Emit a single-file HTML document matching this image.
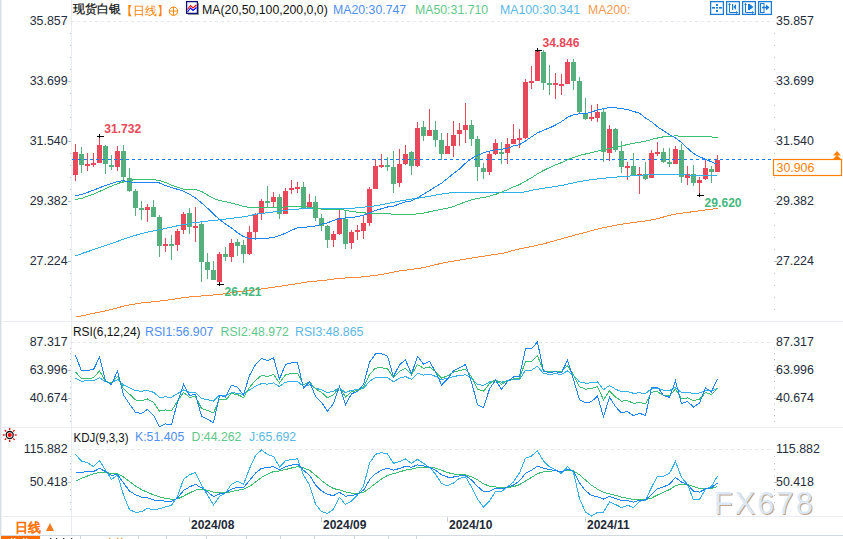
<!DOCTYPE html>
<html><head><meta charset="utf-8"><style>
html,body{margin:0;padding:0;background:#fff;}
#wrap{position:relative;width:843px;height:539px;overflow:hidden;}
svg{display:block}
text{font-family:"Liberation Sans",sans-serif;}
.ax{font-size:12.4px;fill:#252d3c;}
.tt{font-size:12.3px;}
.hl{font-size:12.1px;font-weight:bold;}
.dt{font-size:12px;font-weight:bold;fill:#222a36;}
.wm{font-size:30.5px;letter-spacing:2.2px;}
.bt{font-size:13px;}
</style></head><body><div id="wrap">
<svg width="843" height="539" viewBox="0 0 843 539">
<rect x="0" y="0" width="843" height="539" fill="#fff"/>
<rect x="0" y="0" width="1" height="536" fill="#d9dde6"/><rect x="1" y="0" width="1" height="536" fill="#eef0f4"/>
<rect x="71" y="0" width="1" height="516" fill="#e9edf2"/>
<rect x="1" y="321" width="842" height="1" fill="#e9edf2"/>
<rect x="1" y="427" width="842" height="1" fill="#e9edf2"/>
<rect x="1" y="516" width="842" height="1" fill="#e9edf2"/>
<rect x="71" y="516" width="1" height="20" fill="#e9edf2"/>
<rect x="1" y="535" width="842" height="1" fill="#d3d9e0"/>
<rect x="1" y="536" width="842" height="3" fill="#fff"/>
<rect x="1" y="536" width="39" height="3" fill="#ff6a00"/>
<rect x="80" y="536" width="1" height="3" fill="#cfd5dd"/>
<rect x="138" y="536" width="1" height="3" fill="#cfd5dd"/>
<rect x="166" y="536" width="1" height="3" fill="#cfd5dd"/>
<rect x="206" y="536" width="1" height="3" fill="#cfd5dd"/>
<rect x="246" y="536" width="1" height="3" fill="#cfd5dd"/>
<rect x="280" y="536" width="1" height="3" fill="#cfd5dd"/>
<rect x="314" y="536" width="1" height="3" fill="#cfd5dd"/>
<rect x="354" y="536" width="1" height="3" fill="#cfd5dd"/>
<rect x="388" y="536" width="1" height="3" fill="#cfd5dd"/>
<rect x="416" y="536" width="1" height="3" fill="#cfd5dd"/>
<rect x="11" y="538" width="1.3" height="1" fill="#fff"/>
<rect x="14" y="538" width="1.3" height="1" fill="#fff"/>
<rect x="23" y="538" width="1.3" height="1" fill="#fff"/>
<rect x="26" y="538" width="1.3" height="1" fill="#fff"/>
<rect x="50" y="538" width="1.3" height="1" fill="#333"/>
<rect x="56" y="538" width="1.3" height="1" fill="#333"/>
<rect x="63" y="538" width="1.3" height="1" fill="#333"/>
<rect x="71" y="538" width="1.3" height="1" fill="#333"/>
<rect x="109" y="538" width="1.3" height="1" fill="#ff7f00"/>
<rect x="117" y="538" width="1.3" height="1" fill="#ff7f00"/>
<rect x="121" y="538" width="1.3" height="1" fill="#ff7f00"/>
<rect x="70" y="33" width="1" height="1" fill="#b8c2cf"/>
<rect x="774" y="33" width="1" height="1" fill="#b8c2cf"/>
<rect x="70" y="45" width="1" height="1" fill="#b8c2cf"/>
<rect x="774" y="45" width="1" height="1" fill="#b8c2cf"/>
<rect x="70" y="57" width="1" height="1" fill="#b8c2cf"/>
<rect x="774" y="57" width="1" height="1" fill="#b8c2cf"/>
<rect x="70" y="69" width="1" height="1" fill="#b8c2cf"/>
<rect x="774" y="69" width="1" height="1" fill="#b8c2cf"/>
<rect x="70" y="81" width="1" height="1" fill="#b8c2cf"/>
<rect x="774" y="81" width="1" height="1" fill="#b8c2cf"/>
<rect x="70" y="93" width="1" height="1" fill="#b8c2cf"/>
<rect x="774" y="93" width="1" height="1" fill="#b8c2cf"/>
<rect x="70" y="105" width="1" height="1" fill="#b8c2cf"/>
<rect x="774" y="105" width="1" height="1" fill="#b8c2cf"/>
<rect x="70" y="117" width="1" height="1" fill="#b8c2cf"/>
<rect x="774" y="117" width="1" height="1" fill="#b8c2cf"/>
<rect x="70" y="129" width="1" height="1" fill="#b8c2cf"/>
<rect x="774" y="129" width="1" height="1" fill="#b8c2cf"/>
<rect x="70" y="141" width="1" height="1" fill="#b8c2cf"/>
<rect x="774" y="141" width="1" height="1" fill="#b8c2cf"/>
<rect x="70" y="153" width="1" height="1" fill="#b8c2cf"/>
<rect x="774" y="153" width="1" height="1" fill="#b8c2cf"/>
<rect x="70" y="165" width="1" height="1" fill="#b8c2cf"/>
<rect x="774" y="165" width="1" height="1" fill="#b8c2cf"/>
<rect x="70" y="177" width="1" height="1" fill="#b8c2cf"/>
<rect x="774" y="177" width="1" height="1" fill="#b8c2cf"/>
<rect x="70" y="189" width="1" height="1" fill="#b8c2cf"/>
<rect x="774" y="189" width="1" height="1" fill="#b8c2cf"/>
<rect x="70" y="201" width="1" height="1" fill="#b8c2cf"/>
<rect x="774" y="201" width="1" height="1" fill="#b8c2cf"/>
<rect x="70" y="213" width="1" height="1" fill="#b8c2cf"/>
<rect x="774" y="213" width="1" height="1" fill="#b8c2cf"/>
<rect x="70" y="225" width="1" height="1" fill="#b8c2cf"/>
<rect x="774" y="225" width="1" height="1" fill="#b8c2cf"/>
<rect x="70" y="237" width="1" height="1" fill="#b8c2cf"/>
<rect x="774" y="237" width="1" height="1" fill="#b8c2cf"/>
<rect x="70" y="249" width="1" height="1" fill="#b8c2cf"/>
<rect x="774" y="249" width="1" height="1" fill="#b8c2cf"/>
<rect x="70" y="261" width="1" height="1" fill="#b8c2cf"/>
<rect x="774" y="261" width="1" height="1" fill="#b8c2cf"/>
<rect x="70" y="273" width="1" height="1" fill="#b8c2cf"/>
<rect x="774" y="273" width="1" height="1" fill="#b8c2cf"/>
<rect x="70" y="285" width="1" height="1" fill="#b8c2cf"/>
<rect x="774" y="285" width="1" height="1" fill="#b8c2cf"/>
<rect x="70" y="297" width="1" height="1" fill="#b8c2cf"/>
<rect x="774" y="297" width="1" height="1" fill="#b8c2cf"/>
<rect x="70" y="309" width="1" height="1" fill="#b8c2cf"/>
<rect x="774" y="309" width="1" height="1" fill="#b8c2cf"/>
<text x="67.6" y="25.3" text-anchor="end" class="ax">35.857</text>
<text x="776" y="25.3" class="ax">35.857</text>
<rect x="68" y="81" width="3" height="1" fill="#b8c2cf"/>
<rect x="774" y="81" width="3" height="1" fill="#b8c2cf"/>
<text x="67.6" y="85.3" text-anchor="end" class="ax">33.699</text>
<text x="776" y="85.3" class="ax">33.699</text>
<rect x="68" y="141" width="3" height="1" fill="#b8c2cf"/>
<rect x="774" y="141" width="3" height="1" fill="#b8c2cf"/>
<text x="67.6" y="145.3" text-anchor="end" class="ax">31.540</text>
<text x="776" y="145.3" class="ax">31.540</text>
<rect x="68" y="201" width="3" height="1" fill="#b8c2cf"/>
<rect x="774" y="201" width="3" height="1" fill="#b8c2cf"/>
<text x="67.6" y="205.3" text-anchor="end" class="ax">29.382</text>
<text x="776" y="205.3" class="ax">29.382</text>
<rect x="68" y="261" width="3" height="1" fill="#b8c2cf"/>
<rect x="774" y="261" width="3" height="1" fill="#b8c2cf"/>
<text x="67.6" y="265.3" text-anchor="end" class="ax">27.224</text>
<text x="776" y="265.3" class="ax">27.224</text>
<rect x="70" y="348" width="1" height="1" fill="#b8c2cf"/>
<rect x="774" y="348" width="1" height="1" fill="#b8c2cf"/>
<rect x="70" y="353" width="1" height="1" fill="#b8c2cf"/>
<rect x="774" y="353" width="1" height="1" fill="#b8c2cf"/>
<rect x="70" y="359" width="1" height="1" fill="#b8c2cf"/>
<rect x="774" y="359" width="1" height="1" fill="#b8c2cf"/>
<rect x="70" y="365" width="1" height="1" fill="#b8c2cf"/>
<rect x="774" y="365" width="1" height="1" fill="#b8c2cf"/>
<rect x="70" y="370" width="1" height="1" fill="#b8c2cf"/>
<rect x="774" y="370" width="1" height="1" fill="#b8c2cf"/>
<rect x="70" y="376" width="1" height="1" fill="#b8c2cf"/>
<rect x="774" y="376" width="1" height="1" fill="#b8c2cf"/>
<rect x="70" y="381" width="1" height="1" fill="#b8c2cf"/>
<rect x="774" y="381" width="1" height="1" fill="#b8c2cf"/>
<rect x="70" y="387" width="1" height="1" fill="#b8c2cf"/>
<rect x="774" y="387" width="1" height="1" fill="#b8c2cf"/>
<rect x="70" y="393" width="1" height="1" fill="#b8c2cf"/>
<rect x="774" y="393" width="1" height="1" fill="#b8c2cf"/>
<rect x="70" y="398" width="1" height="1" fill="#b8c2cf"/>
<rect x="774" y="398" width="1" height="1" fill="#b8c2cf"/>
<rect x="70" y="404" width="1" height="1" fill="#b8c2cf"/>
<rect x="774" y="404" width="1" height="1" fill="#b8c2cf"/>
<rect x="70" y="409" width="1" height="1" fill="#b8c2cf"/>
<rect x="774" y="409" width="1" height="1" fill="#b8c2cf"/>
<rect x="70" y="415" width="1" height="1" fill="#b8c2cf"/>
<rect x="774" y="415" width="1" height="1" fill="#b8c2cf"/>
<rect x="70" y="421" width="1" height="1" fill="#b8c2cf"/>
<rect x="774" y="421" width="1" height="1" fill="#b8c2cf"/>
<text x="67.6" y="346.2" text-anchor="end" class="ax">87.317</text>
<text x="776" y="346.2" class="ax">87.317</text>
<rect x="68" y="370" width="3" height="1" fill="#b8c2cf"/>
<rect x="774" y="370" width="3" height="1" fill="#b8c2cf"/>
<text x="67.6" y="374.2" text-anchor="end" class="ax">63.996</text>
<text x="776" y="374.2" class="ax">63.996</text>
<rect x="68" y="398" width="3" height="1" fill="#b8c2cf"/>
<rect x="774" y="398" width="3" height="1" fill="#b8c2cf"/>
<text x="67.6" y="402.1" text-anchor="end" class="ax">40.674</text>
<text x="776" y="402.1" class="ax">40.674</text>
<rect x="70" y="456" width="1" height="1" fill="#b8c2cf"/>
<rect x="774" y="456" width="1" height="1" fill="#b8c2cf"/>
<rect x="70" y="463" width="1" height="1" fill="#b8c2cf"/>
<rect x="774" y="463" width="1" height="1" fill="#b8c2cf"/>
<rect x="70" y="469" width="1" height="1" fill="#b8c2cf"/>
<rect x="774" y="469" width="1" height="1" fill="#b8c2cf"/>
<rect x="70" y="476" width="1" height="1" fill="#b8c2cf"/>
<rect x="774" y="476" width="1" height="1" fill="#b8c2cf"/>
<rect x="70" y="482" width="1" height="1" fill="#b8c2cf"/>
<rect x="774" y="482" width="1" height="1" fill="#b8c2cf"/>
<rect x="70" y="489" width="1" height="1" fill="#b8c2cf"/>
<rect x="774" y="489" width="1" height="1" fill="#b8c2cf"/>
<rect x="70" y="495" width="1" height="1" fill="#b8c2cf"/>
<rect x="774" y="495" width="1" height="1" fill="#b8c2cf"/>
<rect x="70" y="502" width="1" height="1" fill="#b8c2cf"/>
<rect x="774" y="502" width="1" height="1" fill="#b8c2cf"/>
<rect x="70" y="509" width="1" height="1" fill="#b8c2cf"/>
<rect x="774" y="509" width="1" height="1" fill="#b8c2cf"/>
<text x="67.6" y="453.4" text-anchor="end" class="ax">115.882</text>
<text x="776" y="453.4" class="ax">115.882</text>
<rect x="68" y="482" width="3" height="1" fill="#b8c2cf"/>
<rect x="774" y="482" width="3" height="1" fill="#b8c2cf"/>
<text x="67.6" y="486.3" text-anchor="end" class="ax">50.418</text>
<text x="776" y="486.3" class="ax">50.418</text>
<line x1="71" y1="21.5" x2="774" y2="21.5" stroke="#e3e8ee" stroke-width="1" stroke-dasharray="3,3" shape-rendering="crispEdges"/>
<line x1="71" y1="342.5" x2="774" y2="342.5" stroke="#e3e8ee" stroke-width="1" stroke-dasharray="3,3" shape-rendering="crispEdges"/>
<line x1="71" y1="449.5" x2="774" y2="449.5" stroke="#e3e8ee" stroke-width="1" stroke-dasharray="3,3" shape-rendering="crispEdges"/>
<rect x="75" y="144" width="1" height="37" fill="#e9485a"/>
<rect x="73" y="152" width="5" height="23" fill="#e9485a"/>
<rect x="81" y="147" width="1" height="26" fill="#55b07d"/>
<rect x="79" y="154" width="5" height="11" fill="#55b07d"/>
<rect x="87" y="153" width="1" height="18" fill="#e9485a"/>
<rect x="85" y="164" width="5" height="2" fill="#e9485a"/>
<rect x="93" y="153" width="1" height="14" fill="#e9485a"/>
<rect x="91" y="163" width="5" height="2" fill="#e9485a"/>
<rect x="99" y="136" width="1" height="27" fill="#e9485a"/>
<rect x="97" y="145" width="5" height="18" fill="#e9485a"/>
<rect x="105" y="145" width="1" height="29" fill="#55b07d"/>
<rect x="103" y="146" width="5" height="18" fill="#55b07d"/>
<rect x="111" y="155" width="1" height="15" fill="#55b07d"/>
<rect x="109" y="165" width="5" height="2" fill="#55b07d"/>
<rect x="117" y="146" width="1" height="25" fill="#e9485a"/>
<rect x="115" y="151" width="5" height="16" fill="#e9485a"/>
<rect x="123" y="145" width="1" height="38" fill="#55b07d"/>
<rect x="121" y="151" width="5" height="26" fill="#55b07d"/>
<rect x="129" y="168" width="1" height="24" fill="#55b07d"/>
<rect x="127" y="178" width="5" height="13" fill="#55b07d"/>
<rect x="135" y="189" width="1" height="27" fill="#55b07d"/>
<rect x="133" y="191" width="5" height="17" fill="#55b07d"/>
<rect x="141" y="201" width="1" height="19" fill="#55b07d"/>
<rect x="139" y="208" width="5" height="2" fill="#55b07d"/>
<rect x="147" y="204" width="1" height="18" fill="#e9485a"/>
<rect x="145" y="207" width="5" height="3" fill="#e9485a"/>
<rect x="153" y="200" width="1" height="17" fill="#55b07d"/>
<rect x="151" y="207" width="5" height="10" fill="#55b07d"/>
<rect x="159" y="215" width="1" height="42" fill="#55b07d"/>
<rect x="157" y="217" width="5" height="29" fill="#55b07d"/>
<rect x="165" y="238" width="1" height="14" fill="#e9485a"/>
<rect x="163" y="244" width="5" height="2" fill="#e9485a"/>
<rect x="171" y="235" width="1" height="25" fill="#55b07d"/>
<rect x="169" y="244" width="5" height="2" fill="#55b07d"/>
<rect x="177" y="229" width="1" height="22" fill="#e9485a"/>
<rect x="175" y="231" width="5" height="14" fill="#e9485a"/>
<rect x="183" y="212" width="1" height="22" fill="#e9485a"/>
<rect x="181" y="214" width="5" height="16" fill="#e9485a"/>
<rect x="189" y="208" width="1" height="26" fill="#55b07d"/>
<rect x="187" y="213" width="5" height="14" fill="#55b07d"/>
<rect x="195" y="207" width="1" height="35" fill="#e9485a"/>
<rect x="193" y="226" width="5" height="2" fill="#e9485a"/>
<rect x="201" y="222" width="1" height="60" fill="#55b07d"/>
<rect x="199" y="224" width="5" height="38" fill="#55b07d"/>
<rect x="207" y="253" width="1" height="26" fill="#55b07d"/>
<rect x="205" y="262" width="5" height="8" fill="#55b07d"/>
<rect x="213" y="261" width="1" height="19" fill="#55b07d"/>
<rect x="211" y="270" width="5" height="10" fill="#55b07d"/>
<rect x="219" y="252" width="1" height="30" fill="#e9485a"/>
<rect x="217" y="254" width="5" height="28" fill="#e9485a"/>
<rect x="225" y="247" width="1" height="14" fill="#55b07d"/>
<rect x="223" y="254" width="5" height="3" fill="#55b07d"/>
<rect x="231" y="239" width="1" height="23" fill="#e9485a"/>
<rect x="229" y="243" width="5" height="14" fill="#e9485a"/>
<rect x="237" y="239" width="1" height="17" fill="#55b07d"/>
<rect x="235" y="242" width="5" height="4" fill="#55b07d"/>
<rect x="243" y="240" width="1" height="23" fill="#55b07d"/>
<rect x="241" y="245" width="5" height="9" fill="#55b07d"/>
<rect x="249" y="226" width="1" height="29" fill="#e9485a"/>
<rect x="247" y="232" width="5" height="22" fill="#e9485a"/>
<rect x="255" y="213" width="1" height="25" fill="#e9485a"/>
<rect x="253" y="214" width="5" height="18" fill="#e9485a"/>
<rect x="261" y="199" width="1" height="21" fill="#e9485a"/>
<rect x="259" y="201" width="5" height="13" fill="#e9485a"/>
<rect x="267" y="186" width="1" height="21" fill="#55b07d"/>
<rect x="265" y="201" width="5" height="2" fill="#55b07d"/>
<rect x="273" y="192" width="1" height="15" fill="#e9485a"/>
<rect x="271" y="197" width="5" height="5" fill="#e9485a"/>
<rect x="279" y="194" width="1" height="25" fill="#55b07d"/>
<rect x="277" y="197" width="5" height="17" fill="#55b07d"/>
<rect x="285" y="188" width="1" height="26" fill="#e9485a"/>
<rect x="283" y="191" width="5" height="23" fill="#e9485a"/>
<rect x="291" y="180" width="1" height="14" fill="#e9485a"/>
<rect x="289" y="188" width="5" height="2" fill="#e9485a"/>
<rect x="297" y="182" width="1" height="11" fill="#e9485a"/>
<rect x="295" y="187" width="5" height="2" fill="#e9485a"/>
<rect x="303" y="182" width="1" height="27" fill="#55b07d"/>
<rect x="301" y="187" width="5" height="22" fill="#55b07d"/>
<rect x="309" y="194" width="1" height="15" fill="#e9485a"/>
<rect x="307" y="202" width="5" height="7" fill="#e9485a"/>
<rect x="315" y="196" width="1" height="25" fill="#55b07d"/>
<rect x="313" y="202" width="5" height="16" fill="#55b07d"/>
<rect x="321" y="214" width="1" height="17" fill="#55b07d"/>
<rect x="319" y="218" width="5" height="8" fill="#55b07d"/>
<rect x="327" y="225" width="1" height="23" fill="#55b07d"/>
<rect x="325" y="226" width="5" height="14" fill="#55b07d"/>
<rect x="333" y="231" width="1" height="16" fill="#e9485a"/>
<rect x="331" y="234" width="5" height="6" fill="#e9485a"/>
<rect x="339" y="210" width="1" height="25" fill="#e9485a"/>
<rect x="337" y="218" width="5" height="16" fill="#e9485a"/>
<rect x="345" y="210" width="1" height="39" fill="#55b07d"/>
<rect x="343" y="219" width="5" height="25" fill="#55b07d"/>
<rect x="351" y="230" width="1" height="19" fill="#e9485a"/>
<rect x="349" y="232" width="5" height="11" fill="#e9485a"/>
<rect x="357" y="225" width="1" height="15" fill="#e9485a"/>
<rect x="355" y="230" width="5" height="2" fill="#e9485a"/>
<rect x="363" y="216" width="1" height="23" fill="#e9485a"/>
<rect x="361" y="223" width="5" height="8" fill="#e9485a"/>
<rect x="369" y="187" width="1" height="39" fill="#e9485a"/>
<rect x="367" y="189" width="5" height="34" fill="#e9485a"/>
<rect x="375" y="159" width="1" height="30" fill="#e9485a"/>
<rect x="373" y="166" width="5" height="23" fill="#e9485a"/>
<rect x="381" y="154" width="1" height="14" fill="#e9485a"/>
<rect x="379" y="165" width="5" height="2" fill="#e9485a"/>
<rect x="387" y="157" width="1" height="14" fill="#55b07d"/>
<rect x="385" y="165" width="5" height="2" fill="#55b07d"/>
<rect x="393" y="151" width="1" height="42" fill="#55b07d"/>
<rect x="391" y="167" width="5" height="17" fill="#55b07d"/>
<rect x="399" y="149" width="1" height="38" fill="#e9485a"/>
<rect x="397" y="164" width="5" height="19" fill="#e9485a"/>
<rect x="405" y="145" width="1" height="20" fill="#e9485a"/>
<rect x="403" y="154" width="5" height="10" fill="#e9485a"/>
<rect x="411" y="151" width="1" height="24" fill="#55b07d"/>
<rect x="409" y="152" width="5" height="14" fill="#55b07d"/>
<rect x="417" y="122" width="1" height="45" fill="#e9485a"/>
<rect x="415" y="128" width="5" height="38" fill="#e9485a"/>
<rect x="423" y="121" width="1" height="20" fill="#55b07d"/>
<rect x="421" y="127" width="5" height="9" fill="#55b07d"/>
<rect x="429" y="109" width="1" height="27" fill="#e9485a"/>
<rect x="427" y="130" width="5" height="6" fill="#e9485a"/>
<rect x="435" y="121" width="1" height="26" fill="#55b07d"/>
<rect x="433" y="130" width="5" height="10" fill="#55b07d"/>
<rect x="441" y="133" width="1" height="27" fill="#55b07d"/>
<rect x="439" y="140" width="5" height="14" fill="#55b07d"/>
<rect x="447" y="133" width="1" height="21" fill="#e9485a"/>
<rect x="445" y="146" width="5" height="8" fill="#e9485a"/>
<rect x="453" y="121" width="1" height="36" fill="#e9485a"/>
<rect x="451" y="135" width="5" height="11" fill="#e9485a"/>
<rect x="459" y="123" width="1" height="23" fill="#e9485a"/>
<rect x="457" y="130" width="5" height="4" fill="#e9485a"/>
<rect x="465" y="103" width="1" height="40" fill="#e9485a"/>
<rect x="463" y="125" width="5" height="5" fill="#e9485a"/>
<rect x="471" y="120" width="1" height="26" fill="#55b07d"/>
<rect x="469" y="125" width="5" height="14" fill="#55b07d"/>
<rect x="477" y="136" width="1" height="45" fill="#55b07d"/>
<rect x="475" y="139" width="5" height="28" fill="#55b07d"/>
<rect x="483" y="163" width="1" height="16" fill="#55b07d"/>
<rect x="481" y="168" width="5" height="4" fill="#55b07d"/>
<rect x="489" y="152" width="1" height="23" fill="#e9485a"/>
<rect x="487" y="154" width="5" height="18" fill="#e9485a"/>
<rect x="495" y="139" width="1" height="16" fill="#e9485a"/>
<rect x="493" y="143" width="5" height="11" fill="#e9485a"/>
<rect x="501" y="142" width="1" height="22" fill="#55b07d"/>
<rect x="499" y="152" width="5" height="2" fill="#55b07d"/>
<rect x="507" y="138" width="1" height="26" fill="#e9485a"/>
<rect x="505" y="144" width="5" height="9" fill="#e9485a"/>
<rect x="513" y="124" width="1" height="20" fill="#e9485a"/>
<rect x="511" y="139" width="5" height="5" fill="#e9485a"/>
<rect x="519" y="129" width="1" height="19" fill="#e9485a"/>
<rect x="517" y="138" width="5" height="2" fill="#e9485a"/>
<rect x="525" y="79" width="1" height="60" fill="#e9485a"/>
<rect x="523" y="82" width="5" height="56" fill="#e9485a"/>
<rect x="531" y="66" width="1" height="23" fill="#e9485a"/>
<rect x="529" y="81" width="5" height="2" fill="#e9485a"/>
<rect x="537" y="49" width="1" height="32" fill="#e9485a"/>
<rect x="535" y="50" width="5" height="31" fill="#e9485a"/>
<rect x="543" y="50" width="1" height="40" fill="#55b07d"/>
<rect x="541" y="52" width="5" height="31" fill="#55b07d"/>
<rect x="549" y="65" width="1" height="30" fill="#55b07d"/>
<rect x="547" y="83" width="5" height="2" fill="#55b07d"/>
<rect x="555" y="73" width="1" height="26" fill="#e9485a"/>
<rect x="553" y="83" width="5" height="2" fill="#e9485a"/>
<rect x="561" y="74" width="1" height="21" fill="#e9485a"/>
<rect x="559" y="84" width="5" height="2" fill="#e9485a"/>
<rect x="567" y="59" width="1" height="25" fill="#e9485a"/>
<rect x="565" y="62" width="5" height="22" fill="#e9485a"/>
<rect x="573" y="59" width="1" height="31" fill="#55b07d"/>
<rect x="571" y="62" width="5" height="19" fill="#55b07d"/>
<rect x="579" y="77" width="1" height="37" fill="#55b07d"/>
<rect x="577" y="81" width="5" height="31" fill="#55b07d"/>
<rect x="585" y="98" width="1" height="22" fill="#55b07d"/>
<rect x="583" y="113" width="5" height="6" fill="#55b07d"/>
<rect x="591" y="105" width="1" height="16" fill="#e9485a"/>
<rect x="589" y="117" width="5" height="2" fill="#e9485a"/>
<rect x="597" y="104" width="1" height="18" fill="#e9485a"/>
<rect x="595" y="112" width="5" height="6" fill="#e9485a"/>
<rect x="603" y="108" width="1" height="54" fill="#55b07d"/>
<rect x="601" y="112" width="5" height="40" fill="#55b07d"/>
<rect x="609" y="125" width="1" height="36" fill="#e9485a"/>
<rect x="607" y="129" width="5" height="24" fill="#e9485a"/>
<rect x="615" y="128" width="1" height="24" fill="#55b07d"/>
<rect x="613" y="129" width="5" height="21" fill="#55b07d"/>
<rect x="621" y="141" width="1" height="32" fill="#55b07d"/>
<rect x="619" y="151" width="5" height="16" fill="#55b07d"/>
<rect x="627" y="162" width="1" height="18" fill="#e9485a"/>
<rect x="625" y="166" width="5" height="2" fill="#e9485a"/>
<rect x="633" y="153" width="1" height="23" fill="#55b07d"/>
<rect x="631" y="166" width="5" height="10" fill="#55b07d"/>
<rect x="639" y="167" width="1" height="27" fill="#e9485a"/>
<rect x="637" y="174" width="5" height="2" fill="#e9485a"/>
<rect x="645" y="162" width="1" height="18" fill="#55b07d"/>
<rect x="643" y="174" width="5" height="5" fill="#55b07d"/>
<rect x="651" y="150" width="1" height="28" fill="#e9485a"/>
<rect x="649" y="153" width="5" height="25" fill="#e9485a"/>
<rect x="657" y="142" width="1" height="14" fill="#e9485a"/>
<rect x="655" y="152" width="5" height="2" fill="#e9485a"/>
<rect x="663" y="148" width="1" height="15" fill="#55b07d"/>
<rect x="661" y="152" width="5" height="10" fill="#55b07d"/>
<rect x="669" y="148" width="1" height="19" fill="#55b07d"/>
<rect x="667" y="162" width="5" height="2" fill="#55b07d"/>
<rect x="675" y="146" width="1" height="18" fill="#e9485a"/>
<rect x="673" y="149" width="5" height="15" fill="#e9485a"/>
<rect x="681" y="144" width="1" height="39" fill="#55b07d"/>
<rect x="679" y="150" width="5" height="27" fill="#55b07d"/>
<rect x="687" y="166" width="1" height="19" fill="#e9485a"/>
<rect x="685" y="174" width="5" height="4" fill="#e9485a"/>
<rect x="693" y="165" width="1" height="21" fill="#55b07d"/>
<rect x="691" y="174" width="5" height="9" fill="#55b07d"/>
<rect x="699" y="177" width="1" height="17" fill="#e9485a"/>
<rect x="697" y="180" width="5" height="3" fill="#e9485a"/>
<rect x="705" y="160" width="1" height="20" fill="#e9485a"/>
<rect x="703" y="168" width="5" height="11" fill="#e9485a"/>
<rect x="711" y="166" width="1" height="17" fill="#55b07d"/>
<rect x="709" y="169" width="5" height="3" fill="#55b07d"/>
<rect x="717" y="155" width="1" height="17" fill="#e9485a"/>
<rect x="715" y="160" width="5" height="12" fill="#e9485a"/>
<polyline points="75.5,317.2 81.5,315.9 87.5,314.6 93.5,313.4 99.5,312.2 105.5,310.8 111.5,309.3 117.5,307.8 123.5,306.2 129.5,304.9 135.5,303.9 141.5,303.0 147.5,302.3 153.5,301.8 159.5,301.1 165.5,300.3 171.5,299.5 177.5,298.6 183.5,297.7 189.5,297.0 195.5,296.5 201.5,296.0 207.5,295.5 213.5,295.0 219.5,294.5 225.5,293.7 231.5,292.7 237.5,291.8 243.5,291.2 249.5,290.8 255.5,290.0 261.5,289.0 267.5,288.1 273.5,287.2 279.5,286.5 285.5,285.5 291.5,284.5 297.5,283.6 303.5,282.6 309.5,281.7 315.5,281.1 321.5,280.6 327.5,280.0 333.5,279.1 339.5,278.3 345.5,278.0 351.5,277.8 357.5,277.4 363.5,276.8 369.5,276.1 375.5,275.4 381.5,274.4 387.5,273.3 393.5,272.1 399.5,271.0 405.5,270.2 411.5,269.4 417.5,268.5 423.5,267.6 429.5,266.2 435.5,264.7 441.5,263.3 447.5,262.1 453.5,261.1 459.5,260.1 465.5,259.1 471.5,258.1 477.5,257.1 483.5,256.2 489.5,255.2 495.5,254.4 501.5,253.5 507.5,252.1 513.5,250.4 519.5,248.9 525.5,247.7 531.5,246.5 537.5,245.2 543.5,243.8 549.5,242.2 555.5,240.5 561.5,238.8 567.5,237.1 573.5,235.5 579.5,233.9 585.5,232.3 591.5,230.7 597.5,229.2 603.5,227.7 609.5,226.4 615.5,225.3 621.5,224.3 627.5,223.4 633.5,222.5 639.5,221.7 645.5,220.9 651.5,220.0 657.5,218.7 663.5,217.0 669.5,215.3 675.5,214.1 681.5,213.2 687.5,212.4 693.5,211.6 699.5,210.8 705.5,210.0 711.5,209.2 717.5,208.4" fill="none" stroke="#fb8a3c" stroke-width="1" shape-rendering="crispEdges"/>
<polyline points="75.5,255.8 81.5,253.7 87.5,251.7 93.5,249.6 99.5,247.6 105.5,245.5 111.5,243.5 117.5,241.4 123.5,239.2 129.5,237.2 135.5,235.3 141.5,233.6 147.5,232.2 153.5,230.9 159.5,229.7 165.5,228.4 171.5,227.1 177.5,225.8 183.5,224.6 189.5,223.5 195.5,222.5 201.5,221.8 207.5,221.1 213.5,220.5 219.5,219.8 225.5,219.1 231.5,218.4 237.5,217.6 243.5,216.8 249.5,215.7 255.5,214.3 261.5,213.3 267.5,212.8 273.5,212.0 279.5,211.2 285.5,210.3 291.5,209.5 297.5,209.1 303.5,208.7 309.5,208.5 315.5,208.4 321.5,208.4 327.5,208.3 333.5,208.3 339.5,208.3 345.5,208.4 351.5,208.4 357.5,207.7 363.5,207.1 369.5,206.7 375.5,205.8 381.5,204.7 387.5,203.5 393.5,202.3 399.5,201.1 405.5,200.1 411.5,199.1 417.5,198.2 423.5,197.2 429.5,196.2 435.5,195.1 441.5,194.1 447.5,193.2 453.5,192.5 459.5,192.4 465.5,192.3 471.5,192.3 477.5,192.2 483.5,192.2 489.5,192.2 495.5,192.3 501.5,192.4 507.5,192.4 513.5,192.5 519.5,192.5 525.5,191.9 531.5,190.3 537.5,189.2 543.5,188.2 549.5,187.3 555.5,186.5 561.5,185.5 567.5,184.2 573.5,182.8 579.5,181.6 585.5,180.5 591.5,179.7 597.5,178.9 603.5,178.3 609.5,177.7 615.5,177.2 621.5,176.6 627.5,176.2 633.5,175.8 639.5,175.4 645.5,174.9 651.5,174.7 657.5,174.8 663.5,174.8 669.5,174.8 675.5,174.8 681.5,174.9 687.5,175.0 693.5,175.2 699.5,175.6 705.5,175.6 711.5,175.7 717.5,175.8" fill="none" stroke="#2fb0e8" stroke-width="1" shape-rendering="crispEdges"/>
<polyline points="75.5,199.5 81.5,198.5 87.5,196.1 93.5,194.1 99.5,191.5 105.5,188.7 111.5,186.1 117.5,183.7 123.5,181.7 129.5,180.4 135.5,179.6 141.5,179.5 147.5,179.5 153.5,179.7 159.5,180.4 165.5,182.4 171.5,185.1 177.5,187.3 183.5,189.1 189.5,189.5 195.5,189.5 201.5,191.5 207.5,195.0 213.5,198.4 219.5,200.4 225.5,201.7 231.5,203.1 237.5,204.6 243.5,206.6 249.5,207.4 255.5,207.4 261.5,207.4 267.5,207.4 273.5,207.4 279.5,207.4 285.5,207.0 291.5,206.4 297.5,206.3 303.5,206.5 309.5,207.5 315.5,208.4 321.5,209.1 327.5,209.3 333.5,209.3 339.5,209.3 345.5,210.2 351.5,211.6 357.5,212.2 363.5,212.8 369.5,213.4 375.5,213.7 381.5,213.7 387.5,213.7 393.5,214.2 399.5,214.5 405.5,214.3 411.5,214.3 417.5,213.9 423.5,213.1 429.5,211.8 435.5,210.5 441.5,209.4 447.5,208.1 453.5,206.5 459.5,204.2 465.5,201.8 471.5,199.7 477.5,198.4 483.5,197.5 489.5,196.1 495.5,194.4 501.5,192.2 507.5,189.7 513.5,186.9 519.5,184.6 525.5,181.1 531.5,177.8 537.5,173.9 543.5,170.5 549.5,167.6 555.5,164.9 561.5,162.6 567.5,159.8 573.5,157.5 579.5,155.4 585.5,154.0 591.5,152.6 597.5,151.1 603.5,149.9 609.5,148.5 615.5,147.1 621.5,146.0 627.5,144.5 633.5,143.3 639.5,142.4 645.5,141.1 651.5,139.5 657.5,138.0 663.5,136.8 669.5,136.3 675.5,135.9 681.5,136.2 687.5,136.3 693.5,136.3 699.5,136.6 705.5,136.9 711.5,137.0 717.5,137.6" fill="none" stroke="#3dbf72" stroke-width="1" shape-rendering="crispEdges"/>
<polyline points="75.5,195.5 81.5,194.6 87.5,192.4 93.5,190.2 99.5,187.8 105.5,185.5 111.5,183.6 117.5,181.5 123.5,180.6 129.5,181.9 135.5,182.3 141.5,182.3 147.5,182.3 153.5,182.3 159.5,183.0 165.5,185.6 171.5,187.5 177.5,189.3 183.5,191.1 189.5,194.3 195.5,198.0 201.5,202.9 207.5,208.2 213.5,214.0 219.5,219.5 225.5,224.1 231.5,228.0 237.5,232.7 243.5,236.6 249.5,238.6 255.5,239.0 261.5,238.5 267.5,238.3 273.5,237.3 279.5,235.7 285.5,233.1 291.5,230.1 297.5,227.9 303.5,227.7 309.5,226.4 315.5,226.0 321.5,224.2 327.5,222.8 333.5,220.5 339.5,218.7 345.5,218.0 351.5,217.5 357.5,216.7 363.5,215.1 369.5,213.0 375.5,210.5 381.5,208.7 387.5,207.0 393.5,206.3 399.5,203.8 405.5,201.9 411.5,200.9 417.5,197.9 423.5,194.3 429.5,190.7 435.5,186.8 441.5,183.2 447.5,178.5 453.5,173.5 459.5,169.1 465.5,163.2 471.5,158.5 477.5,155.4 483.5,152.8 489.5,151.1 495.5,149.9 501.5,149.3 507.5,148.2 513.5,145.9 519.5,144.7 525.5,141.0 531.5,136.8 537.5,132.9 543.5,130.2 549.5,127.9 555.5,125.1 561.5,121.6 567.5,117.4 573.5,114.7 579.5,113.8 585.5,113.5 591.5,112.4 597.5,109.7 603.5,108.7 609.5,107.5 615.5,107.8 621.5,108.5 627.5,109.6 633.5,111.4 639.5,113.2 645.5,118.1 651.5,121.7 657.5,126.8 663.5,130.7 669.5,134.7 675.5,138.0 681.5,142.6 687.5,148.3 693.5,153.4 699.5,156.8 705.5,159.2 711.5,161.9 717.5,164.3" fill="none" stroke="#1f84fa" stroke-width="1" shape-rendering="crispEdges"/>
<line x1="72" y1="159.5" x2="774" y2="159.5" stroke="#0a7cff" stroke-width="1" stroke-dasharray="3,3" shape-rendering="crispEdges"/>
<rect x="97" y="136" width="7" height="1" fill="#000"/><rect x="99" y="134" width="1" height="4" fill="#000"/>
<rect x="535" y="50" width="7" height="1" fill="#000"/><rect x="537" y="48" width="1" height="4" fill="#000"/>
<rect x="217" y="284" width="7" height="1" fill="#000"/><rect x="219" y="282" width="1" height="4" fill="#000"/>
<rect x="697" y="195" width="7" height="1" fill="#000"/><rect x="699" y="193" width="1" height="4" fill="#000"/>
<text x="104.3" y="133" class="hl" fill="#e9485a">31.732</text>
<text x="542.5" y="47" class="hl" fill="#e9485a">34.846</text>
<text x="224.6" y="296" class="hl" fill="#45b87f">26.421</text>
<text x="704.6" y="207" class="hl" fill="#45b87f">29.620</text>
<rect x="773.5" y="159.5" width="68" height="16" fill="#fff" stroke="#ff7f00" stroke-width="1.2"/>
<text x="776.5" y="171.5" class="ax" style="fill:#ff7f00">30.906</text>
<path d="M832.5 159.5 L837 155 L841.5 159.5 Z M833 155.5 L837 151 L841 155.5Z" fill="#ff7f00"/>
<polyline points="75.5,378.5 81.5,381.1 87.5,380.9 93.5,380.8 99.5,377.7 105.5,381.8 111.5,382.5 117.5,379.6 123.5,385.0 129.5,387.7 135.5,390.8 141.5,391.2 147.5,390.5 153.5,392.3 159.5,397.3 165.5,396.9 171.5,397.3 177.5,393.7 183.5,390.0 189.5,392.4 195.5,392.2 201.5,398.4 207.5,399.7 213.5,401.2 219.5,395.2 225.5,395.7 231.5,392.8 237.5,393.2 243.5,394.6 249.5,389.9 255.5,386.3 261.5,383.6 267.5,384.1 273.5,382.9 279.5,386.6 285.5,382.1 291.5,381.6 297.5,381.4 303.5,386.3 309.5,384.8 315.5,388.2 321.5,389.8 327.5,392.6 333.5,391.2 339.5,387.7 345.5,392.7 351.5,390.2 357.5,389.7 363.5,388.2 369.5,381.4 375.5,377.5 381.5,377.4 387.5,377.8 393.5,381.7 399.5,378.2 405.5,376.5 411.5,379.4 417.5,373.3 423.5,375.1 429.5,374.2 435.5,376.4 441.5,379.6 447.5,378.3 453.5,376.4 459.5,375.6 465.5,374.8 471.5,378.1 477.5,384.4 483.5,385.5 489.5,382.0 495.5,380.1 501.5,382.3 507.5,380.6 513.5,379.7 519.5,379.5 525.5,370.4 531.5,370.2 537.5,366.2 543.5,373.8 549.5,374.2 555.5,373.9 561.5,374.2 567.5,370.9 573.5,375.4 579.5,381.9 585.5,383.2 591.5,382.9 597.5,382.0 603.5,389.7 609.5,385.5 615.5,389.1 621.5,391.8 627.5,391.6 633.5,393.3 639.5,392.8 645.5,393.6 651.5,388.5 657.5,388.4 663.5,390.1 669.5,390.5 675.5,387.4 681.5,392.6 687.5,392.1 693.5,393.6 699.5,393.0 705.5,390.2 711.5,391.0 717.5,388.4" fill="none" stroke="#35b0e8" stroke-width="1" shape-rendering="crispEdges"/>
<polyline points="75.5,372.0 81.5,378.7 87.5,378.3 93.5,377.9 99.5,370.9 105.5,381.3 111.5,382.9 117.5,376.3 123.5,388.6 129.5,394.2 135.5,399.9 141.5,400.7 147.5,399.0 153.5,402.5 159.5,411.1 165.5,410.0 171.5,410.6 177.5,401.3 183.5,392.4 189.5,397.2 195.5,396.7 201.5,408.4 207.5,410.4 213.5,412.9 219.5,399.2 225.5,400.0 231.5,393.6 237.5,394.5 243.5,397.6 249.5,387.3 255.5,380.3 261.5,375.5 267.5,376.5 273.5,374.4 279.5,383.0 285.5,374.7 291.5,373.6 297.5,373.3 303.5,384.6 309.5,381.7 315.5,388.9 321.5,392.3 327.5,397.8 333.5,394.6 339.5,387.1 345.5,397.0 351.5,391.7 357.5,390.6 363.5,387.4 369.5,374.5 375.5,368.1 381.5,367.8 387.5,368.9 393.5,377.6 399.5,371.3 405.5,368.4 411.5,374.8 417.5,364.5 423.5,368.3 429.5,366.9 435.5,371.6 441.5,378.2 447.5,375.8 453.5,372.1 459.5,370.7 465.5,369.1 471.5,376.7 477.5,389.3 483.5,391.3 489.5,383.7 495.5,379.7 501.5,384.2 507.5,380.7 513.5,378.7 519.5,378.3 525.5,361.7 531.5,361.5 537.5,355.6 543.5,370.9 549.5,371.5 555.5,371.1 561.5,371.6 567.5,365.6 573.5,374.9 579.5,386.8 585.5,389.1 591.5,388.6 597.5,386.5 603.5,399.9 609.5,390.9 615.5,397.0 621.5,401.2 627.5,400.6 633.5,403.4 639.5,402.4 645.5,403.8 651.5,392.1 657.5,391.8 663.5,395.2 669.5,395.9 675.5,388.9 681.5,399.0 687.5,397.9 693.5,400.7 699.5,399.2 705.5,392.7 711.5,394.3 717.5,388.3" fill="none" stroke="#3dbf72" stroke-width="1" shape-rendering="crispEdges"/>
<polyline points="75.5,355.3 81.5,371.0 87.5,370.3 93.5,369.5 99.5,357.3 105.5,381.1 111.5,384.5 117.5,371.0 123.5,394.9 129.5,404.0 135.5,412.4 141.5,413.5 147.5,409.4 153.5,415.2 159.5,426.6 165.5,423.9 171.5,424.6 177.5,402.2 183.5,384.5 189.5,395.4 195.5,394.3 201.5,416.2 207.5,419.3 213.5,422.8 219.5,395.3 225.5,397.2 231.5,385.2 237.5,387.3 243.5,394.8 249.5,375.4 255.5,364.7 261.5,358.3 267.5,360.7 273.5,357.7 279.5,379.2 285.5,364.5 291.5,362.8 297.5,362.3 303.5,388.3 309.5,381.9 315.5,396.3 321.5,402.4 327.5,411.3 333.5,403.5 339.5,386.3 345.5,404.8 351.5,393.8 357.5,391.5 363.5,384.6 369.5,362.3 375.5,353.9 381.5,353.6 387.5,356.3 393.5,376.6 399.5,364.7 405.5,359.9 411.5,373.9 417.5,356.4 423.5,364.0 429.5,361.5 435.5,371.6 441.5,384.9 447.5,379.1 453.5,370.9 459.5,367.9 465.5,364.4 471.5,382.1 477.5,404.6 483.5,407.6 489.5,389.0 495.5,380.2 501.5,389.3 507.5,381.5 513.5,377.0 519.5,376.1 525.5,348.8 531.5,348.6 537.5,342.1 543.5,371.4 549.5,372.5 555.5,371.7 561.5,372.7 567.5,360.3 573.5,379.5 579.5,399.6 585.5,403.0 591.5,401.7 597.5,396.1 603.5,416.8 609.5,397.0 615.5,406.7 621.5,412.9 627.5,411.5 633.5,415.8 639.5,413.2 645.5,415.6 651.5,387.7 657.5,387.1 663.5,395.5 669.5,397.3 675.5,380.8 681.5,403.8 687.5,401.3 693.5,407.1 699.5,403.1 705.5,387.7 711.5,392.0 717.5,378.6" fill="none" stroke="#1f84fa" stroke-width="1" shape-rendering="crispEdges"/>
<polyline points="75.5,454.5 81.5,461.1 87.5,462.6 93.5,466.8 99.5,460.7 105.5,470.1 111.5,479.5 117.5,474.9 123.5,495.1 129.5,509.7 135.5,512.3 141.5,511.8 147.5,508.3 153.5,509.9 159.5,508.7 165.5,506.9 171.5,505.3 177.5,496.6 183.5,479.3 189.5,474.7 195.5,472.6 201.5,485.0 207.5,495.0 213.5,505.1 219.5,496.2 225.5,492.9 231.5,484.2 237.5,481.3 243.5,484.4 249.5,468.6 255.5,455.5 261.5,450.0 267.5,454.4 273.5,456.5 279.5,466.9 285.5,460.8 291.5,459.3 297.5,458.9 303.5,474.9 309.5,485.0 315.5,504.1 321.5,511.6 327.5,513.4 333.5,509.4 339.5,497.3 345.5,504.5 351.5,501.0 357.5,495.0 363.5,486.1 369.5,463.1 375.5,454.3 381.5,452.6 387.5,453.9 393.5,463.3 399.5,461.5 405.5,458.9 411.5,463.4 417.5,459.3 423.5,463.4 429.5,467.5 435.5,474.0 441.5,483.6 447.5,485.8 453.5,483.0 459.5,478.3 465.5,476.8 471.5,487.0 477.5,499.1 483.5,507.1 489.5,500.9 495.5,491.6 501.5,491.5 507.5,486.9 513.5,481.9 519.5,472.9 525.5,458.2 531.5,456.0 537.5,451.0 543.5,460.8 549.5,466.9 555.5,469.8 561.5,473.6 567.5,466.6 573.5,472.2 579.5,498.7 585.5,512.0 591.5,516.0 597.5,512.5 603.5,512.1 609.5,502.0 615.5,504.5 621.5,507.6 627.5,505.3 633.5,507.4 639.5,501.3 645.5,500.1 651.5,487.4 657.5,476.4 663.5,476.1 669.5,473.4 675.5,461.5 681.5,477.5 687.5,484.3 693.5,500.0 699.5,499.4 705.5,489.4 711.5,486.4 717.5,475.8" fill="none" stroke="#35b0e8" stroke-width="1" shape-rendering="crispEdges"/>
<polyline points="75.5,481.4 81.5,478.1 87.5,476.0 93.5,473.9 99.5,472.2 105.5,472.2 111.5,473.5 117.5,473.9 123.5,476.9 129.5,481.6 135.5,486.0 141.5,489.7 147.5,492.3 153.5,494.8 159.5,496.8 165.5,498.3 171.5,499.3 177.5,498.9 183.5,496.1 189.5,493.0 195.5,490.1 201.5,489.4 207.5,490.2 213.5,492.3 219.5,492.9 225.5,492.9 231.5,491.7 237.5,490.2 243.5,489.3 249.5,486.4 255.5,482.0 261.5,477.4 267.5,474.1 273.5,471.6 279.5,470.9 285.5,469.5 291.5,468.0 297.5,466.7 303.5,467.9 309.5,470.3 315.5,475.2 321.5,480.4 327.5,485.1 333.5,488.6 339.5,489.8 345.5,491.9 351.5,493.2 357.5,493.5 363.5,492.4 369.5,488.2 375.5,483.4 381.5,479.0 387.5,475.4 393.5,473.7 399.5,471.9 405.5,470.1 411.5,469.1 417.5,467.7 423.5,467.1 429.5,467.1 435.5,468.1 441.5,470.3 447.5,472.5 453.5,474.0 459.5,474.6 465.5,474.9 471.5,476.7 477.5,479.9 483.5,483.8 489.5,486.2 495.5,487.0 501.5,487.6 507.5,487.5 513.5,486.7 519.5,484.7 525.5,481.0 531.5,477.4 537.5,473.6 543.5,471.8 549.5,471.1 555.5,470.9 561.5,471.3 567.5,470.6 573.5,470.8 579.5,474.8 585.5,480.1 591.5,485.2 597.5,489.1 603.5,492.4 609.5,493.8 615.5,495.3 621.5,497.1 627.5,498.2 633.5,499.6 639.5,499.8 645.5,499.8 651.5,498.1 657.5,495.0 663.5,492.3 669.5,489.6 675.5,485.6 681.5,484.4 687.5,484.4 693.5,486.6 699.5,488.5 705.5,488.6 711.5,488.3 717.5,486.5" fill="none" stroke="#3dbf72" stroke-width="1" shape-rendering="crispEdges"/>
<polyline points="75.5,472.4 81.5,472.4 87.5,471.5 93.5,471.5 99.5,468.4 105.5,471.5 111.5,475.5 117.5,474.2 123.5,483.0 129.5,491.0 135.5,494.8 141.5,497.1 147.5,497.7 153.5,499.9 159.5,500.8 165.5,501.1 171.5,501.3 177.5,498.1 183.5,490.5 189.5,486.9 195.5,484.3 201.5,487.9 207.5,491.8 213.5,496.6 219.5,494.0 225.5,492.9 231.5,489.2 237.5,487.2 243.5,487.7 249.5,480.5 255.5,473.1 261.5,468.3 267.5,467.5 273.5,466.6 279.5,469.6 285.5,466.6 291.5,465.1 297.5,464.1 303.5,470.2 309.5,475.2 315.5,484.8 321.5,490.8 327.5,494.5 333.5,495.5 339.5,492.3 345.5,496.1 351.5,495.8 357.5,494.0 363.5,490.3 369.5,479.8 375.5,473.7 381.5,470.2 387.5,468.2 393.5,470.2 399.5,468.4 405.5,466.3 411.5,467.2 417.5,464.9 423.5,465.9 429.5,467.3 435.5,470.1 441.5,474.8 447.5,477.0 453.5,477.0 459.5,475.9 465.5,475.6 471.5,480.1 477.5,486.3 483.5,491.6 489.5,491.1 495.5,488.5 501.5,488.9 507.5,487.3 513.5,485.1 519.5,480.8 525.5,473.4 531.5,470.2 537.5,466.1 543.5,468.1 549.5,469.7 555.5,470.5 561.5,472.0 567.5,469.3 573.5,471.3 579.5,482.8 585.5,490.7 591.5,495.5 597.5,496.9 603.5,499.0 609.5,496.5 615.5,498.4 621.5,500.6 627.5,500.6 633.5,502.2 639.5,500.3 645.5,499.9 651.5,494.5 657.5,488.8 663.5,486.9 669.5,484.2 675.5,477.5 681.5,482.1 687.5,484.4 693.5,491.1 699.5,492.1 705.5,488.9 711.5,487.7 717.5,482.9" fill="none" stroke="#1f84fa" stroke-width="1" shape-rendering="crispEdges"/>
<rect x="189" y="517" width="1" height="5" fill="#c9d0d9"/>
<text x="191" y="529" class="dt">2024/08</text>
<rect x="321" y="517" width="1" height="5" fill="#c9d0d9"/>
<text x="323" y="529" class="dt">2024/09</text>
<rect x="447" y="517" width="1" height="5" fill="#c9d0d9"/>
<text x="449" y="529" class="dt">2024/10</text>
<rect x="585" y="517" width="1" height="5" fill="#c9d0d9"/>
<text x="587" y="529" class="dt">2024/11</text>
<text x="714" y="514.3" class="wm" fill="#c0a48c" transform="translate(1,1)">FX678</text>
<text x="714" y="514.3" class="wm" fill="#dce8f6">FX678</text>
<text x="73" y="13.2" class="tt" style="fill:#111;stroke:#111;stroke-width:0.25">现货白银</text>
<text x="121" y="14.5" class="tt" fill="#ff7f00">【日线】</text>
<circle cx="173.5" cy="11.2" r="4.2" fill="none" stroke="#ff7f00" stroke-width="1"/><rect x="169.5" y="10.6" width="8" height="0.9" fill="#ff7f00"/><rect x="173.05" y="7" width="0.9" height="8.4" fill="#ff7f00"/>
<rect x="188" y="3" width="11" height="12" fill="#9a9aa8"/><rect x="186.6" y="1.6" width="10.8" height="11.8" fill="#fff" stroke="#101070" stroke-width="1.3"/><polyline points="187.5,9.5 190.5,5.5 193,8 196.5,5" fill="none" stroke="#f00" stroke-width="1.1"/><polyline points="187.5,12 190.5,8 193,10.5 196.5,7.5" fill="none" stroke="#00f" stroke-width="1.1"/>
<text x="202" y="14" class="tt" fill="#111">MA(20,50,100,200,0,0)</text>
<text x="333" y="14" class="tt" fill="#4f8ff0">MA20:30.747</text>
<text x="415" y="14" class="tt" fill="#5fc88a">MA50:31.710</text>
<text x="500" y="14" class="tt" fill="#5ab8e8">MA100:30.341</text>
<text x="588" y="14" class="tt" fill="#f59a50">MA200:</text>
<rect x="710.6" y="1.6" width="12.8" height="12.8" fill="#fff" stroke="#1a7ad4" stroke-width="1.3"/>
<rect x="726.6" y="1.6" width="12.8" height="12.8" fill="#fff" stroke="#1a7ad4" stroke-width="1.3"/>
<rect x="742.6" y="1.6" width="12.8" height="12.8" fill="#fff" stroke="#1a7ad4" stroke-width="1.3"/>
<rect x="758.6" y="1.6" width="12.8" height="12.8" fill="#fff" stroke="#1a7ad4" stroke-width="1.3"/>
<g fill="#1a7ad4"><rect x="716" y="4" width="2" height="2"/><rect x="716" y="10" width="2" height="2"/><rect x="712" y="7" width="3" height="1.6"/><rect x="719" y="7" width="3" height="1.6"/><rect x="716" y="7" width="2" height="1.6"/></g>
<path d="M729.5 3.5 V12.5 H737.5" fill="none" stroke="#1a7ad4" stroke-width="1"/><path d="M728 5 L729.5 3 L731 5Z M736 11 L738 12.5 L736 14Z" fill="#1a7ad4"/>
<rect x="732" y="4" width="1.2" height="6" fill="#1a7ad4"/><path d="M736 4 L733.5 7 L736 10Z" fill="#1a7ad4"/>
<path d="M745.5 3.5 V12.5 H753.5" fill="none" stroke="#1a7ad4" stroke-width="1"/><path d="M744 5 L745.5 3 L747 5Z M752 11 L754 12.5 L752 14Z" fill="#1a7ad4"/>
<rect x="748" y="4" width="1.2" height="6" fill="#1a7ad4"/><path d="M749 3.5 L753.5 7 L749 10.5Z" fill="#1a7ad4"/>
<rect x="760.5" y="3.5" width="3.5" height="9" fill="none" stroke="#1a7ad4" stroke-width="1"/><path d="M762 7.5 H767" stroke="#1a7ad4" stroke-width="1.6"/><path d="M766 4.5 L769.5 7.5 L766 10.5Z" fill="#1a7ad4"/>
<text x="73" y="336" class="tt" fill="#111" textLength="67.5" lengthAdjust="spacingAndGlyphs">RSI(6,12,24)</text>
<text x="145" y="336" class="tt" fill="#4f8ff0">RSI1:56.907</text>
<text x="220.5" y="336" class="tt" fill="#5fc88a">RSI2:48.972</text>
<text x="295" y="336" class="tt" fill="#5ab8e8">RSI3:48.865</text>
<text x="73.5" y="441.5" class="tt" fill="#111" textLength="55" lengthAdjust="spacingAndGlyphs">KDJ(9,3,3)</text>
<text x="135" y="441" class="tt" fill="#4f8ff0">K:51.405</text>
<text x="191.5" y="441" class="tt" fill="#5fc88a">D:44.262</text>
<text x="249" y="441" class="tt" fill="#5ab8e8">J:65.692</text>
<circle cx="9.7" cy="435" r="3.5" fill="none" stroke="#111" stroke-width="1.3"/><circle cx="9.7" cy="435" r="2.1" fill="#f00"/>
<line x1="14.7" y1="435.0" x2="16.7" y2="435.0" stroke="#f00" stroke-width="1.3"/>
<line x1="13.2" y1="438.5" x2="14.6" y2="439.9" stroke="#f00" stroke-width="1.3"/>
<line x1="9.7" y1="440.0" x2="9.7" y2="442.0" stroke="#f00" stroke-width="1.3"/>
<line x1="6.2" y1="438.5" x2="4.8" y2="439.9" stroke="#f00" stroke-width="1.3"/>
<line x1="4.7" y1="435.0" x2="2.7" y2="435.0" stroke="#f00" stroke-width="1.3"/>
<line x1="6.2" y1="431.5" x2="4.8" y2="430.1" stroke="#f00" stroke-width="1.3"/>
<line x1="9.7" y1="430.0" x2="9.7" y2="428.0" stroke="#f00" stroke-width="1.3"/>
<line x1="13.2" y1="431.5" x2="14.6" y2="430.1" stroke="#f00" stroke-width="1.3"/>
<text x="15" y="532" class="bt" style="fill:#ff7000;stroke:#ff7000;stroke-width:0.6">日线</text>
<path d="M46 531 L50 523 L54 531Z" fill="#f07a1e"/>
</svg></div></body></html>
